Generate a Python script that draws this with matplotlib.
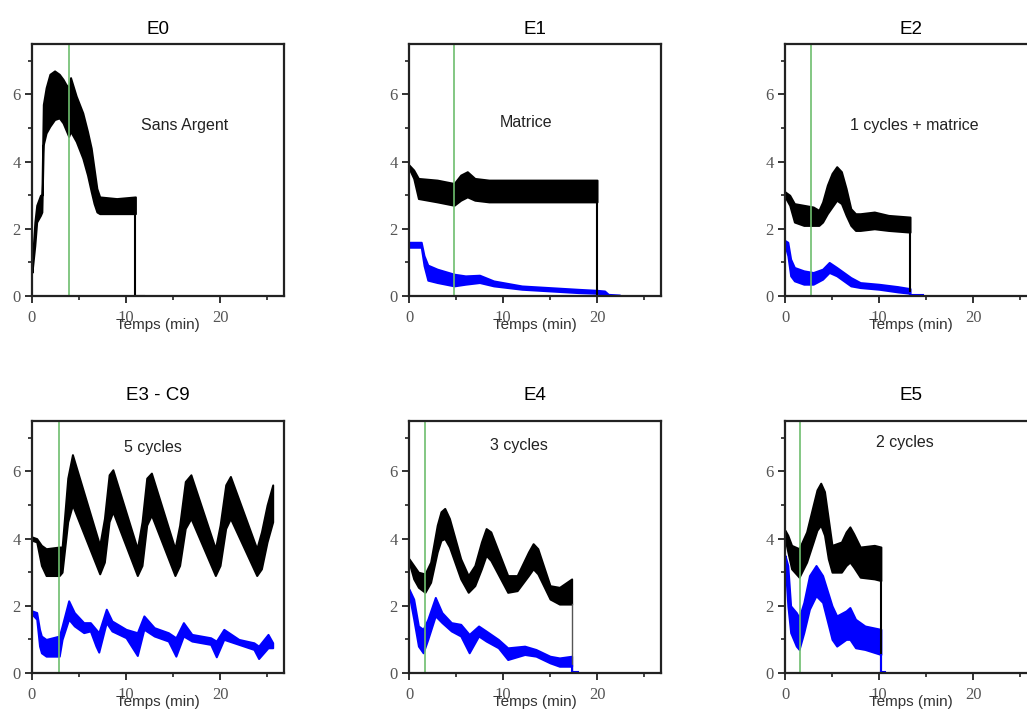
import numpy as np
import matplotlib.pyplot as plt
from matplotlib.ticker import MultipleLocator

# ---- data (time in min) ----
# each trace is a noisy band: upper / lower envelope
TITLES = ['E0', 'E1', 'E2', 'E3 - C9', 'E4', 'E5']
NOTES = ['Sans Argent', 'Matrice', '1 cycles + matrice', '5 cycles', '3 cycles', '2 cycles']
NOTE_X = [16.2, 12.4, 13.8, 12.9, 11.7, 12.8]
NOTE_Y = [5.07, 5.16, 5.07, 6.7, 6.76, 6.85]
GREEN_T = [3.9, 4.8, 2.8, 2.9, 1.7, 1.6]

# E0
e0_t = [0, 0.3, 0.5, 0.9, 1.05, 1.2, 1.5, 1.9, 2.4, 2.9, 3.3, 3.6, 3.9, 4.1, 4.7, 5.4, 5.9,
        6.3, 6.6, 6.9, 7.2, 9.0, 11.0]
e0_hi = [0.9, 2.2, 2.7, 3.0, 3.0, 5.7, 6.2, 6.6, 6.7, 6.6, 6.45, 6.3, 6.2, 6.5, 5.95, 5.45, 4.9,
         4.4, 3.8, 3.2, 2.95, 2.9, 2.95]
e0_lo = [0.7, 1.5, 2.2, 2.4, 2.5, 4.5, 4.85, 5.05, 5.25, 5.3, 5.15, 4.95, 4.75, 4.9, 4.6, 4.1, 3.6,
         3.1, 2.75, 2.5, 2.45, 2.45, 2.45]

# E1
e1_t = [0, 0.5, 1.0, 3.0, 4.8, 5.5, 6.2, 7.0, 8.5, 12, 16, 20]
e1_hi = [3.9, 3.75, 3.5, 3.45, 3.35, 3.6, 3.7, 3.5, 3.45, 3.45, 3.45, 3.45]
e1_lo = [3.8, 3.5, 2.9, 2.8, 2.7, 2.85, 2.95, 2.85, 2.8, 2.8, 2.8, 2.8]
e1b_t = [0, 1.3, 1.6, 2.0, 3.0, 4.8, 6.0, 7.5, 9.0, 12, 15, 18, 20, 20.8, 21.2, 22.4]
e1b_hi = [1.6, 1.6, 1.2, 0.92, 0.8, 0.65, 0.6, 0.62, 0.45, 0.3, 0.25, 0.2, 0.17, 0.15, 0.05, 0.03]
e1b_lo = [1.45, 1.45, 0.9, 0.47, 0.4, 0.3, 0.35, 0.4, 0.3, 0.2, 0.15, 0.1, 0.08, 0.05, 0.0, 0.0]

# E2
e2_t = [0, 0.5, 1.0, 2.0, 3.0, 3.6, 4.0, 4.5, 5.0, 5.5, 6.0, 6.5, 7.0, 7.5, 8.0, 9.5, 11, 13.3]
e2_hi = [3.1, 3.0, 2.75, 2.7, 2.65, 2.55, 2.8, 3.3, 3.65, 3.85, 3.7, 3.2, 2.6, 2.45, 2.45, 2.5, 2.4, 2.35]
e2_lo = [2.95, 2.7, 2.2, 2.1, 2.1, 2.1, 2.2, 2.45, 2.65, 2.85, 2.75, 2.4, 2.1, 1.95, 1.95, 2.0, 1.95, 1.9]
e2b_t = [0, 0.3, 0.6, 1.0, 2.0, 3.0, 4.0, 4.7, 5.5, 7.0, 8.0, 10, 12, 13.3]
e2b_hi = [1.65, 1.6, 1.1, 0.85, 0.75, 0.7, 0.8, 1.0, 0.85, 0.55, 0.4, 0.35, 0.28, 0.22]
e2b_lo = [1.5, 1.2, 0.6, 0.45, 0.35, 0.35, 0.5, 0.7, 0.6, 0.3, 0.25, 0.2, 0.12, 0.08]

# E3 - C9
e3_t = [0, 0.5, 1.0, 1.5, 2.9, 3.2, 3.8, 4.3, 7.2, 7.7, 8.2, 8.6, 11.2, 11.7, 12.2, 12.7,
        15.2, 15.7, 16.3, 16.9, 19.5, 20.0, 20.6, 21.1, 23.9, 24.4, 25.0, 25.6]
e3_hi = [4.05, 4.0, 3.8, 3.7, 3.75, 3.75, 5.8, 6.5, 3.8, 4.6, 5.9, 6.05, 3.7, 4.5, 5.8, 5.95,
         3.7, 4.4, 5.7, 5.9, 3.7, 4.4, 5.6, 5.85, 3.7, 4.2, 5.0, 5.6]
e3_lo = [3.95, 3.9, 3.2, 2.9, 2.9, 3.0, 4.5, 5.0, 2.95, 3.3, 4.5, 4.8, 2.9, 3.2, 4.4, 4.7,
         2.9, 3.2, 4.3, 4.6, 2.9, 3.2, 4.3, 4.6, 2.9, 3.1, 3.9, 4.5]
e3b_t = [0, 0.5, 0.8, 1.0, 1.5, 2.9, 3.2, 3.9, 4.5, 5.5, 6.2, 6.8, 7.1, 7.9, 8.5, 10.0, 11.2,
         11.9, 13.0, 14.5, 15.3, 16.1, 17.0, 19.0, 19.6, 20.4, 22.0, 23.6, 24.1, 25.1, 25.6]
e3b_hi = [1.85, 1.8, 1.3, 1.1, 1.0, 1.1, 1.4, 2.15, 1.8, 1.5, 1.5, 1.3, 1.2, 1.9, 1.55, 1.3, 1.2,
          1.7, 1.35, 1.2, 1.05, 1.5, 1.15, 1.05, 0.95, 1.3, 1.0, 0.9, 0.8, 1.15, 0.9]
e3b_lo = [1.75, 1.6, 0.8, 0.6, 0.5, 0.5, 1.0, 1.6, 1.4, 1.2, 1.25, 0.8, 0.62, 1.5, 1.25, 1.05, 0.52,
          1.3, 1.1, 0.95, 0.5, 1.1, 0.95, 0.85, 0.48, 1.0, 0.85, 0.7, 0.43, 0.75, 0.75]

# E4
e4_t = [0, 0.5, 1.0, 1.7, 2.3, 3.0, 3.4, 3.8, 4.3, 5.5, 6.3, 7.0, 7.7, 8.2, 8.7, 10.5, 11.5,
        12.7, 13.2, 13.7, 15.0, 16.0, 17.3]
e4_hi = [3.4, 3.2, 3.0, 2.95, 3.3, 4.4, 4.8, 4.9, 4.6, 3.4, 2.9, 3.2, 3.9, 4.3, 4.2, 2.9, 2.9,
         3.6, 3.85, 3.7, 2.6, 2.55, 2.8]
e4_lo = [3.3, 2.8, 2.55, 2.4, 2.7, 3.6, 3.95, 4.0, 3.75, 2.8, 2.4, 2.6, 3.1, 3.5, 3.35, 2.4, 2.45,
         2.9, 3.1, 2.95, 2.2, 2.05, 2.05]
e4b_t = [0, 0.5, 1.0, 1.5, 2.0, 2.8, 3.5, 4.5, 5.5, 6.4, 7.4, 8.2, 9.5, 10.5, 12.3, 13.5, 15.0, 16.0, 17.3]
e4b_hi = [2.5, 2.2, 1.4, 1.3, 1.6, 2.25, 1.8, 1.5, 1.45, 1.15, 1.4, 1.25, 1.0, 0.75, 0.8, 0.7, 0.5, 0.45, 0.5]
e4b_lo = [2.35, 1.6, 0.8, 0.6, 1.0, 1.7, 1.5, 1.25, 1.1, 0.6, 1.1, 0.95, 0.75, 0.4, 0.55, 0.5, 0.3, 0.2, 0.2]

# E5
e5_t = [0, 0.3, 0.7, 1.5, 2.3, 3.0, 3.4, 3.8, 4.2, 4.6, 5.0, 6.0, 6.5, 6.9, 7.3, 8.0, 9.5, 10.2]
e5_hi = [4.25, 4.1, 3.8, 3.7, 4.2, 5.0, 5.45, 5.65, 5.4, 4.6, 3.8, 3.9, 4.2, 4.35, 4.15, 3.75, 3.8, 3.75]
e5_lo = [4.0, 3.6, 3.1, 2.85, 3.3, 3.9, 4.25, 4.4, 4.1, 3.4, 3.0, 3.0, 3.2, 3.3, 3.15, 2.85, 2.8, 2.75]
e5b_t = [0, 0.3, 0.6, 1.2, 1.5, 2.0, 2.6, 3.3, 4.0, 5.0, 5.5, 6.5, 6.9, 7.5, 8.5, 10.2]
e5b_hi = [3.5, 3.2, 2.0, 1.8, 1.65, 2.1, 2.9, 3.2, 2.9, 2.0, 1.7, 1.85, 1.95, 1.6, 1.4, 1.3]
e5b_lo = [3.3, 2.0, 1.2, 0.8, 0.7, 1.2, 1.9, 2.3, 2.1, 1.0, 0.8, 1.0, 1.0, 0.75, 0.7, 0.55]

# end of recording: signal drops to 0 and runs flat to the given time (None = no tail)
BLACK_TAIL = [11.9, None, None, None, None, None]
BLACK_DROP = [True, True, True, False, True, True]
BLUE_TAIL = [None, None, 14.7, None, 18.0, 10.6]

black = [(e0_t, e0_hi, e0_lo), (e1_t, e1_hi, e1_lo), (e2_t, e2_hi, e2_lo),
         (e3_t, e3_hi, e3_lo), (e4_t, e4_hi, e4_lo), (e5_t, e5_hi, e5_lo)]
blue = [None, (e1b_t, e1b_hi, e1b_lo), (e2b_t, e2b_hi, e2b_lo),
        (e3b_t, e3b_hi, e3b_lo), (e4b_t, e4b_hi, e4b_lo), (e5b_t, e5b_hi, e5b_lo)]


def band(ax, t, hi, lo, color):
    ax.fill_between(t, lo, hi, color=color, lw=1.4, edgecolor=color)


fig = plt.figure(figsize=(10.27, 7.11), dpi=100)
W, H = 1027, 711
lefts = [32, 409, 785]
bottoms = [296, 673]

for i in range(6):
    r, c = divmod(i, 3)
    ax = fig.add_axes([lefts[c] / W, 1 - bottoms[r] / H, 252 / W, 252 / H])
    ax.set_xlim(0, 26.8)
    ax.set_ylim(0, 7.5)

    t, hi, lo = black[i]
    band(ax, t, hi, lo, 'black')
    if BLACK_DROP[i]:
        ax.plot([t[-1], t[-1]], [lo[-1], 0], color='black' if i != 4 else '#555555',
                lw=1.5 if i != 4 else 1.0)
    if BLACK_TAIL[i] is not None:
        ax.plot([t[-1], BLACK_TAIL[i]], [0, 0], color='black', lw=1.5)

    if blue[i] is not None:
        t, hi, lo = blue[i]
        band(ax, t, hi, lo, '#0000ff')
        if BLUE_TAIL[i] is not None:
            ax.plot([t[-1], t[-1]], [lo[-1], 0], color='#0000ff', lw=1.5)
            ax.plot([t[-1], BLUE_TAIL[i]], [0.02, 0.02], color='#0000ff', lw=1.5)

    ax.axvline(GREEN_T[i], color='#6ebe6e', lw=1.2)

    ax.text(NOTE_X[i], NOTE_Y[i], NOTES[i], ha='center', va='center',
            fontsize=11.5, family='Liberation Sans', color='#222222')
    ax.set_title(TITLES[i], fontsize=13.5, family='Liberation Sans',
                 pad=7 if r == 0 else 15)

    ax.xaxis.set_major_locator(MultipleLocator(10))
    ax.xaxis.set_minor_locator(MultipleLocator(5))
    ax.yaxis.set_major_locator(MultipleLocator(2))
    ax.yaxis.set_minor_locator(MultipleLocator(1))
    ax.tick_params(which='major', direction='out', length=5, width=1.3,
                   labelsize=12, pad=3, colors='#222222', labelcolor='#555555')
    ax.tick_params(axis='x', which='major', pad=5)
    ax.tick_params(which='minor', direction='out', length=3, width=1.2, colors='#222222')
    for lab in ax.get_xticklabels() + ax.get_yticklabels():
        lab.set_family('Liberation Serif')
    ax.set_xlabel('Temps (min)', fontsize=11, family='Liberation Sans', color='#333333')
    ax.xaxis.set_label_coords(0.5, -0.088)
    for s in ax.spines.values():
        s.set_linewidth(1.6)
        s.set_color('#222222')

fig.savefig('out.png', dpi=100)
